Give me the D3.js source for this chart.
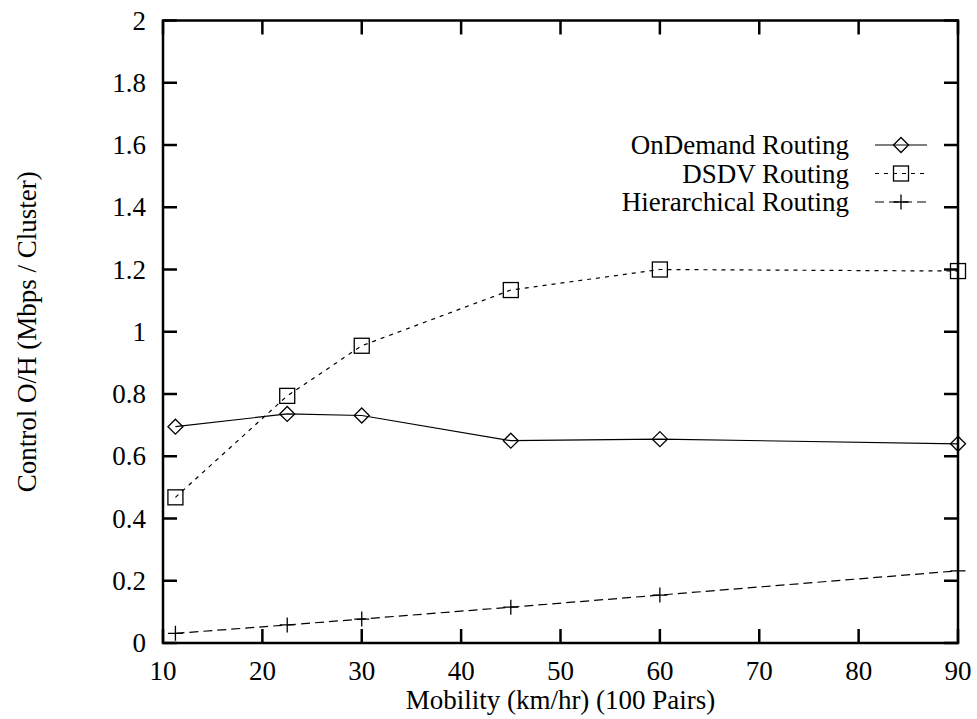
<!DOCTYPE html>
<html>
<head>
  <meta charset="utf-8"/>
  <script src="https://d3js.org/d3.v7.min.js"></script>
</head>
<body style="margin:0">
<div id="chart"></div>
<script>
// data
var mobility = [11.25, 22.5, 30, 45, 60, 90]
var onDemand = [0.695, 0.736, 0.731, 0.650, 0.655, 0.640]
var dsdv = [0.468, 0.794, 0.955, 1.134, 1.200, 1.195]
var hierarchical = [0.031, 0.058, 0.077, 0.115, 0.154, 0.232]
var seriesNames = ["OnDemand Routing", "DSDV Routing", "Hierarchical Routing"]
var xTicks = [10, 20, 30, 40, 50, 60, 70, 80, 90]
var yTicks = [0, 0.2, 0.4, 0.6, 0.8, 1, 1.2, 1.4, 1.6, 1.8, 2]

var width = 977, height = 719
var margin = {left: 163, right: 19, top: 20.5, bottom: 76}

var x = d3.scaleLinear().domain([10, 90]).range([margin.left, width - margin.right])
var y = d3.scaleLinear().domain([0, 2]).range([height - margin.bottom, margin.top])

var serifFont = "'Liberation Serif', 'Times New Roman', Times, serif"
var fontSize = 27
var tickLen = 14

var svg = d3.select("#chart").append("svg")
    .attr("width", width)
    .attr("height", height)
    .style("font-family", serifFont, "important")

// ticks, inward on all four sides
var g = svg.append("g")
g.selectAll(".xt").data(xTicks).enter().append("line")
  .attr("x1", d => x(d)).attr("x2", d => x(d))
  .attr("y1", y(0)).attr("y2", y(0) - tickLen)
  .attr("stroke", "#000").attr("stroke-width", 2.5)
g.selectAll(".xt2").data(xTicks).enter().append("line")
  .attr("x1", d => x(d)).attr("x2", d => x(d))
  .attr("y1", y(2)).attr("y2", y(2) + tickLen)
  .attr("stroke", "#000").attr("stroke-width", 2.5)
g.selectAll(".yt").data(yTicks).enter().append("line")
  .attr("x1", x(10)).attr("x2", x(10) + tickLen)
  .attr("y1", d => y(d)).attr("y2", d => y(d))
  .attr("stroke", "#000").attr("stroke-width", 2.5)
g.selectAll(".yt2").data(yTicks).enter().append("line")
  .attr("x1", x(90)).attr("x2", x(90) - tickLen)
  .attr("y1", d => y(d)).attr("y2", d => y(d))
  .attr("stroke", "#000").attr("stroke-width", 2.5)

// tick labels
g.selectAll(".xl").data(xTicks).enter().append("text")
  .attr("x", d => x(d)).attr("y", 680)
  .attr("text-anchor", "middle")
  .attr("font-size", fontSize)
  .style("font-family", serifFont, "important")
  .text(d => d)
g.selectAll(".yl").data(yTicks).enter().append("text")
  .attr("x", x(10) - 17).attr("y", d => y(d) + 9)
  .attr("text-anchor", "end")
  .attr("font-size", fontSize)
  .style("font-family", serifFont, "important")
  .text(d => d)

// axis titles
svg.append("text")
  .attr("x", (x(10) + x(90)) / 2).attr("y", 709)
  .attr("text-anchor", "middle")
  .attr("font-size", fontSize)
  .style("font-family", serifFont, "important")
  .text("Mobility (km/hr) (100 Pairs)")
svg.append("text")
  .attr("transform", "translate(36," + (y(0) + y(2)) / 2 + ") rotate(-90)")
  .attr("text-anchor", "middle")
  .attr("font-size", fontSize)
  .style("font-family", serifFont, "important")
  .text("Control O/H (Mbps / Cluster)")

var series = [
  {name: seriesNames[0], values: onDemand, dash: null, marker: "diamond"},
  {name: seriesNames[1], values: dsdv, dash: "4,5", marker: "square"},
  {name: seriesNames[2], values: hierarchical, dash: "9,5", marker: "plus"}
]

function drawMarker(sel, type, cx, cy) {
  var s = 7.5
  if (type == "diamond") {
    sel.append("path")
      .attr("d", "M" + cx + "," + (cy - s) + "L" + (cx + s) + "," + cy + "L" + cx + "," + (cy + s) + "L" + (cx - s) + "," + cy + "Z")
      .attr("fill", "none").attr("stroke", "#000").attr("stroke-width", 1.3)
  } else if (type == "square") {
    sel.append("rect")
      .attr("x", cx - s).attr("y", cy - s).attr("width", 2 * s).attr("height", 2 * s)
      .attr("fill", "none").attr("stroke", "#000").attr("stroke-width", 1.3)
  } else {
    sel.append("path")
      .attr("d", "M" + (cx - s) + "," + cy + "H" + (cx + s) + "M" + cx + "," + (cy - s) + "V" + (cy + s))
      .attr("fill", "none").attr("stroke", "#000").attr("stroke-width", 1.3)
  }
}

var line = d3.line().x(d => x(d[0])).y(d => y(d[1]))

series.forEach(function(s, i) {
  var pts = mobility.map((m, j) => [m, s.values[j]])
  svg.append("path")
    .attr("d", line(pts))
    .attr("fill", "none")
    .attr("stroke", "#000")
    .attr("stroke-width", 1.2)
    .attr("stroke-dasharray", s.dash)
  var mg = svg.append("g")
  pts.forEach(p => drawMarker(mg, s.marker, x(p[0]), y(p[1])))

  // legend
  var ly = 145 + i * 28.5
  svg.append("text")
    .attr("x", 849).attr("y", ly + 9)
    .attr("text-anchor", "end")
    .attr("font-size", fontSize)
    .style("font-family", serifFont, "important")
    .text(s.name)
  svg.append("line")
    .attr("x1", 875).attr("x2", 927).attr("y1", ly).attr("y2", ly)
    .attr("stroke", "#000").attr("stroke-width", 1.2)
    .attr("stroke-dasharray", s.dash)
  drawMarker(svg, s.marker, 901, ly)
})

// frame
svg.append("rect")
  .attr("x", x(10)).attr("y", y(2))
  .attr("width", x(90) - x(10)).attr("height", y(0) - y(2))
  .attr("fill", "none").attr("stroke", "#000").attr("stroke-width", 2.5)
</script>
</body>
</html>
